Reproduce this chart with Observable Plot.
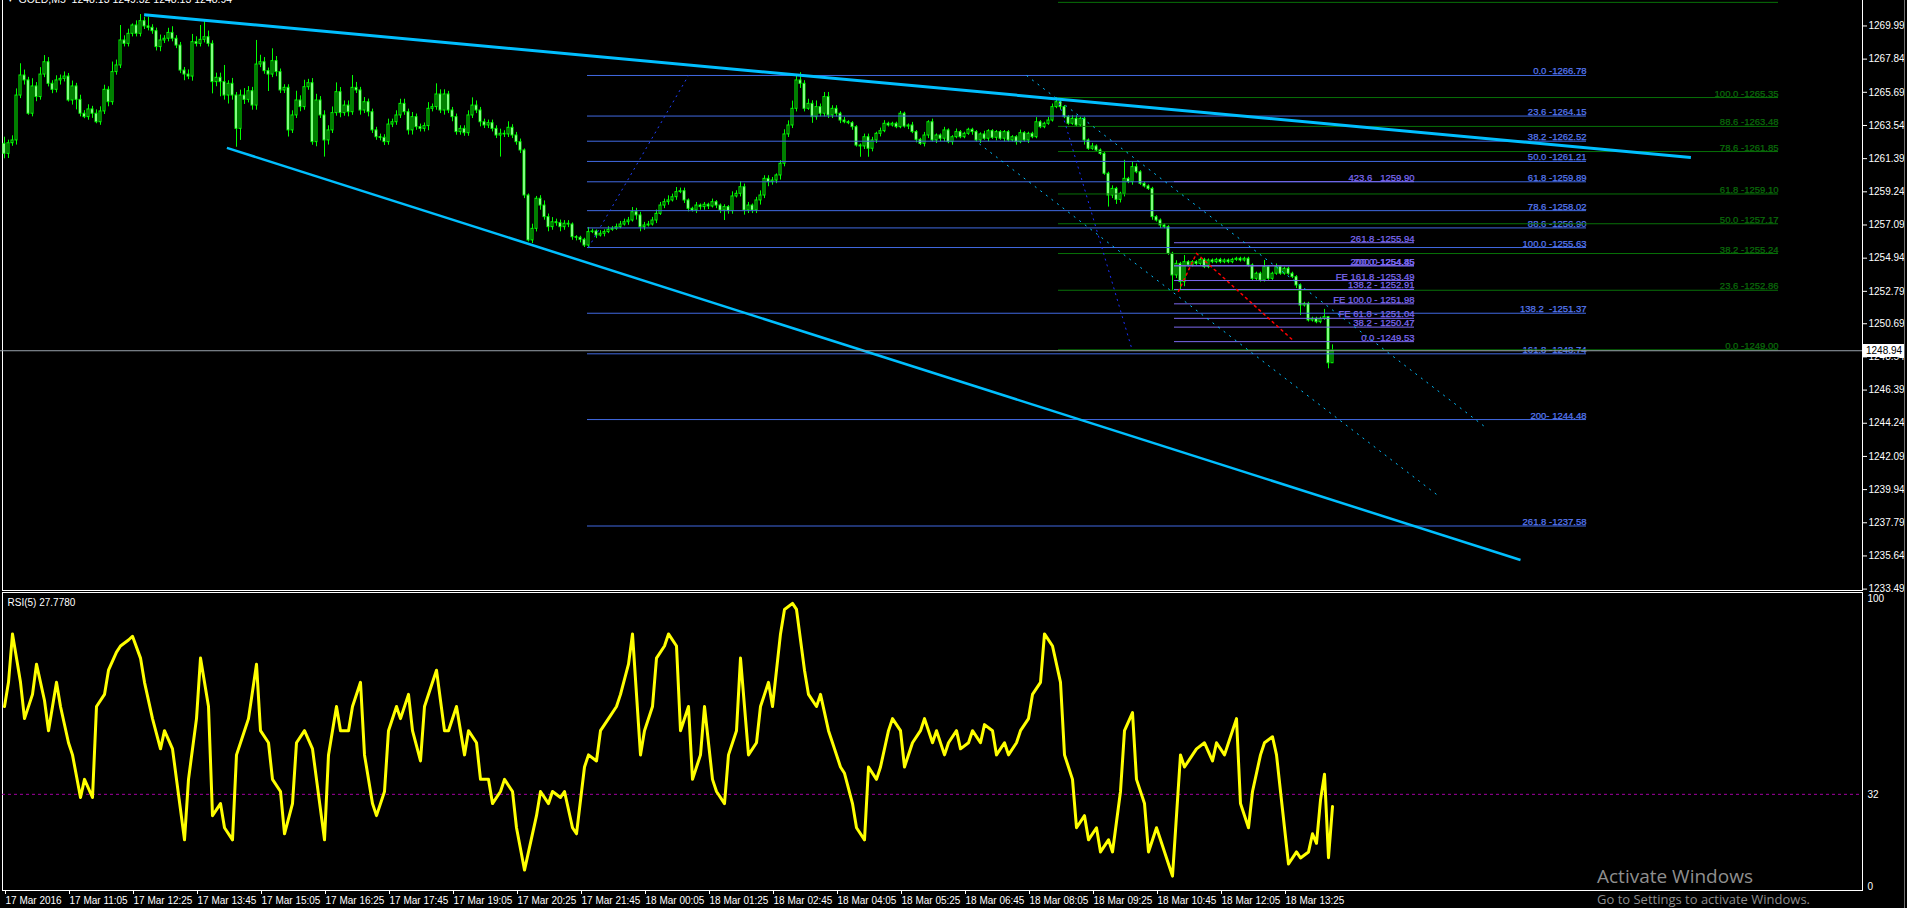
<!DOCTYPE html>
<html><head><meta charset="utf-8">
<script src="https://cdn.jsdelivr.net/npm/d3@7"></script>
<script src="https://cdn.jsdelivr.net/npm/@observablehq/plot@0.6"></script>
<style>
html,body{margin:0;padding:0;background:#000;overflow:hidden;}
#wrap{position:relative;width:1907px;height:908px;background:#000;}
#wrap svg{display:block;}
#wrap svg.mainchart{position:relative;z-index:2;overflow:visible;}
#overlay{position:absolute;left:0;top:0;pointer-events:none;z-index:3;}
</style></head><body><div id="wrap"></div>
<script>
// ---------- DATA ----------
const headerText = "GOLD,M5  1248.13 1249.32 1248.13 1248.94";
const rsiTitle = "RSI(5) 27.7780";
const firstOpen = 1262.35;
const closes = [
1261.70,1262.39,1262.57,1265.48,1266.78,1266.46,1264.30,1266.07,1265.38,1266.84,
1267.64,1266.24,1265.85,1266.46,1266.56,1266.71,1265.16,1266.07,1265.20,1264.30,
1264.08,1264.58,1264.30,1263.75,1264.45,1265.85,1265.05,1267.00,1267.43,1269.05,
1268.83,1269.48,1270.02,1269.48,1270.30,1269.96,1269.87,1269.65,1268.62,1269.05,
1269.16,1269.54,1269.16,1268.72,1267.10,1266.84,1266.71,1268.94,1268.83,1269.09,
1269.26,1268.83,1266.35,1266.63,1266.35,1265.48,1266.24,1265.48,1263.32,1265.48,
1265.20,1265.76,1264.83,1267.49,1267.64,1267.06,1266.84,1267.71,1267.00,1265.81,
1265.98,1263.22,1264.19,1265.16,1264.73,1266.02,1266.28,1262.46,1265.16,1264.19,
1262.57,1263.22,1264.34,1265.70,1264.34,1264.83,1264.40,1265.98,1265.81,1264.51,
1265.05,1264.40,1263.22,1262.78,1262.74,1262.46,1263.60,1263.75,1264.19,1264.94,
1264.40,1263.22,1264.08,1263.43,1263.32,1263.50,1264.62,1264.73,1265.55,1264.51,
1265.55,1264.51,1264.08,1263.11,1263.32,1263.04,1264.19,1264.83,1264.51,1263.75,
1263.54,1263.69,1263.32,1262.89,1263.00,1262.96,1263.39,1262.89,1262.46,1261.92,
1259.00,1256.09,1256.84,1258.79,1258.35,1257.60,1256.95,1257.27,1257.21,1256.95,
1257.17,1257.12,1256.30,1256.26,1256.13,1255.76,1256.63,1256.67,1256.41,1256.52,
1256.63,1256.78,1256.84,1256.95,1257.12,1257.27,1257.38,1257.92,1257.71,1256.95,
1257.06,1257.12,1257.38,1257.81,1258.35,1258.57,1258.68,1258.89,1259.22,1259.28,
1258.68,1258.14,1258.03,1258.35,1258.25,1258.40,1258.29,1258.57,1258.35,1258.03,
1258.25,1257.99,1258.94,1259.11,1259.54,1258.03,1258.35,1258.03,1258.68,1259.00,
1260.08,1259.87,1259.97,1260.30,1261.06,1262.96,1263.54,1264.62,1266.46,1266.24,
1264.62,1264.94,1264.08,1264.73,1264.30,1265.38,1264.19,1264.62,1264.30,1263.86,
1263.75,1263.69,1263.43,1262.24,1262.18,1262.78,1262.03,1262.57,1263.00,1263.17,
1263.65,1263.54,1263.65,1263.43,1264.30,1263.47,1263.54,1263.11,1262.61,1262.35,
1262.89,1263.75,1262.57,1262.89,1262.68,1263.22,1262.46,1262.78,1263.11,1262.78,
1263.00,1263.26,1263.11,1262.57,1262.96,1262.68,1263.17,1262.74,1263.11,1262.68,
1263.11,1262.57,1262.78,1262.46,1263.04,1262.57,1263.00,1262.78,1263.75,1263.43,
1263.65,1263.86,1264.73,1265.05,1264.73,1264.08,1263.65,1263.97,1263.54,1263.97,
1262.57,1262.03,1262.18,1261.92,1261.70,1260.41,1259.00,1259.43,1258.72,1259.11,
1260.08,1259.87,1260.84,1260.51,1259.76,1259.59,1259.43,1257.60,1257.38,1257.06,
1256.95,1255.22,1253.82,1254.57,1253.39,1254.68,1254.47,1254.68,1254.57,1254.83,
1254.36,1254.79,1254.68,1254.83,1254.68,1254.79,1254.68,1254.83,1254.90,1254.79,
1254.90,1254.47,1253.60,1253.93,1253.49,1254.36,1253.60,1253.93,1254.36,1253.93,
1254.25,1253.93,1253.71,1253.17,1251.87,1251.98,1250.90,1251.01,1250.79,1251.01,
1251.12,1248.13,1248.94];
const wickUp = [
0.43,0.2,0.3,0.43,0.76,0.35,0.2,0.5,0.25,0.45,0.43,0.3,0.2,0.3,0.25,0.3,0.2,0.35,0.2,0.3,
0.2,0.3,0.2,0.25,0.3,0.3,0.2,0.65,0.35,0.97,0.3,0.3,0.1,0.3,0.43,0.25,0.6,0.2,0.2,0.35,
0.2,0.3,0.4,0.2,0.2,0.2,0.3,0.5,0.35,0.93,1.08,0.4,0.2,0.3,0.3,1.08,0.2,0.35,0.2,0.35,
0.45,0.3,0.25,1.56,0.45,0.3,0.2,0.8,0.3,0.2,0.2,0.2,0.3,0.6,0.3,0.45,0.25,0.3,0.4,0.25,
0.3,0.3,0.4,0.6,0.3,0.3,0.3,0.8,0.35,0.2,0.3,0.2,0.2,0.2,0.2,0.2,0.35,0.2,0.3,0.3,
0.3,0.2,0.3,0.2,0.2,0.2,0.4,0.2,0.69,0.3,0.3,0.2,0.2,0.2,0.2,0.2,0.3,0.5,0.3,0.2,
0.2,0.2,0.2,0.2,0.3,0.2,0.39,0.2,0.2,0.2,0.1,0.1,0.3,0.15,0.2,0.3,0.2,0.3,0.2,0.2,
0.2,0.2,0.1,0.1,0.1,0.1,0.3,0.15,0.1,0.2,0.15,0.2,0.15,0.2,0.2,0.2,0.2,0.3,0.25,0.2,
0.2,0.2,0.2,0.25,0.2,0.2,0.3,0.2,0.3,0.2,0.2,0.1,0.1,0.2,0.1,0.15,0.1,0.2,0.1,0.1,
0.15,0.1,0.3,0.2,0.35,0.2,0.2,0.1,0.2,0.3,0.2,0.2,0.2,0.1,0.2,0.3,0.3,0.5,0.32,0.5,
0.2,0.3,0.2,0.4,0.2,0.3,0.3,0.2,0.2,0.1,0.2,0.1,0.1,0.1,0.1,0.2,0.2,0.2,0.1,0.2,
0.2,0.1,0.1,0.1,0.15,0.1,0.1,0.2,0.1,0.1,0.2,0.1,0.2,0.1,0.1,0.2,0.1,0.1,0.2,0.1,
0.1,0.1,0.1,0.1,0.1,0.2,0.1,0.1,0.1,0.1,0.1,0.1,0.1,0.1,0.2,0.1,0.1,0.1,0.3,0.1,
0.1,0.2,0.2,0.3,0.1,0.1,0.1,0.2,0.2,0.1,0.1,0.1,0.2,0.1,0.1,0.1,0.1,0.2,0.1,0.1,
1.2,0.1,0.3,0.2,0.1,0.1,0.1,0.1,0.1,0.1,0.1,0.1,0.1,0.2,0.1,0.43,0.1,0.1,0.1,0.1,
0.1,0.1,0.1,0.1,0.1,0.1,0.1,0.1,0.1,0.1,0.1,0.1,0.1,0.1,0.1,0.43,0.1,0.1,0.2,0.1,
0.1,0.1,0.1,0.1,0.1,0.1,0.1,0.1,0.1,0.1,0.5,0,0.38];
const wickDn = [
0.32,0.3,0.2,0.3,0.2,0.3,0.1,0.2,0.3,0.2,0.2,0.2,0.25,0.2,0.3,0.2,0.1,0.3,0.65,0.2,
0.1,0.2,0.3,0.1,0.2,0.2,0.3,0.2,0.2,0.2,0.2,0.2,0.2,0.2,0.2,0.2,0.2,0.2,0.25,0.3,
0.2,0.2,0.2,0.2,0.2,0.4,0.2,0.3,0.2,0.2,0.2,0.2,0.76,0.3,0.95,0.3,0.55,0.3,1.19,0.75,
0.3,0.2,0.3,0.3,0.2,0.2,1.1,0.2,0.3,0.2,0.2,0.43,0.2,0.2,0.3,0.2,0.2,0.2,0.3,0.2,
1.08,0.3,0.2,0.2,0.3,0.2,0.3,0.2,0.2,0.3,0.2,0.3,0.2,0.2,0.2,0.22,0.2,0.2,0.2,0.2,
0.2,0.3,0.3,0.2,0.2,0.2,0.3,0.2,0.2,0.2,0.3,0.2,0.3,0.2,0.2,0.2,0.2,0.2,0.2,0.3,
0.2,0.2,0.2,0.2,1.4,0.2,0.2,0.2,0.2,0.2,0.2,0.1,0.2,0.2,0.3,0.2,0.3,0.2,0.2,0.3,
0.2,0.2,0.2,0.2,0.2,0.13,0.2,0.1,0.2,0.1,0.2,0.1,0.1,0.1,0.1,0.1,0.2,0.1,0.3,0.3,
0.2,0.1,0.1,0.2,0.1,0.2,0.2,0.1,0.2,0.1,0.2,0.2,0.1,0.2,0.2,0.2,0.2,0.1,0.2,0.2,
0.65,0.2,0.2,0.1,0.2,0.3,0.2,0.2,0.2,0.3,0.2,0.3,0.2,0.2,0.3,0.2,0.2,0.2,0.2,0.3,
0.2,0.1,0.4,0.2,0.2,0.2,0.2,0.2,0.2,0.2,0.1,0.1,0.2,0.1,0.7,0.2,0.55,0.2,0.2,0.2,
0.1,0.1,0.1,0.1,0.1,0.1,0.2,0.1,0.2,0.1,0.2,0.2,0.1,0.2,0.2,0.2,0.1,0.2,0.1,0.1,
0.1,0.1,0.2,0.1,0.2,0.1,0.2,0.1,0.2,0.1,0.2,0.1,0.1,0.2,0.1,0.1,0.2,0.1,0.1,0.1,
0.1,0.1,0.1,0.1,0.2,0.1,0.1,0.1,0.1,0.1,0.3,0.1,0.1,0.1,0.1,0.1,0.75,0.2,0.3,0.2,
0.2,0.1,0.2,0.1,0.1,0.1,0.1,0.2,0.1,0.2,0.1,0.1,0.97,0.2,0.54,0.3,0.1,0.1,0.1,0.1,
0.1,0.1,0.1,0.1,0.1,0.1,0.1,0.1,0.1,0.1,0.1,0.1,0.1,0.1,0.1,0.1,0.1,0.1,0.1,0.1,
0.1,0.1,0.1,0.2,0.65,0.1,0.1,0.1,0.1,0.1,0.1,0.36,0];

const rsiBar = [0,1,2,4,5,7,8,10,11,13,14,16,17,19,20,22,23,25,26,28,29,31,32,34,35,37,39,40,42,43,45,46,48,49,51,52,54,55,57,58,60,61,63,64,66,67,69,70,72,73,75,77,78,80,81,83,84,86,87,89,90,92,93,95,96,98,99,101,102,104,105,107,108,110,111,113,115,116,118,119,121,122,124,125,127,128,130,131,133,134,136,137,139,140,142,143,145,146,148,149,151,153,154,156,157,159,160,162,163,165,166,168,169,171,172,174,175,177,178,180,181,183,184,186,188,189,191,192,194,195,197,198,200,201,203,204,206,207,209,210,212,213,215,216,218,219,221,222,224,225,227,229,230,232,233,235,236,238,239,241,242,244,245,247,248,250,251,253,254,256,257,259,260,262,264,265,267,268,270,271,273,274,276,277,279,280,282,283,285,286,288,289,291,292,294,295,297,298,300,302,303,305,306,308,309,311,312,314,315,317,318,320,321,323,324,326,327,328,329,330,331,332];
const rsiVal = [62.5,70.9,87.7,70.9,58.3,66.7,77.2,64.6,54.1,70.9,62.5,49.9,45.7,30.9,37.2,30.9,62.5,66.7,75.1,81.4,83.5,85.6,86.9,79.3,70.9,58.3,47.8,54.1,47.8,37.2,16.2,37.2,58.3,79.3,62.5,24.6,28.8,20.4,16.2,45.7,54.1,58.3,77.2,54.1,49.9,37.2,33.0,18.3,28.8,49.9,54.1,47.8,37.2,16.2,45.7,62.5,54.1,54.1,62.5,70.9,45.7,28.8,24.6,33.0,54.1,62.5,58.3,66.7,54.1,43.6,62.5,70.9,75.1,54.1,54.1,62.5,45.7,54.1,49.9,37.2,37.2,28.8,33.0,37.2,33.0,20.4,5.7,12.0,24.6,33.0,28.8,33.0,30.9,33.0,20.4,18.3,41.5,45.7,43.6,54.1,58.3,62.5,66.7,77.2,87.7,45.7,54.1,62.5,79.3,83.5,87.7,83.5,54.1,62.5,37.2,45.7,62.5,37.2,33.0,28.8,45.7,54.1,79.3,45.7,49.9,62.5,70.9,62.5,87.7,96.2,98.3,96.2,75.1,66.7,62.5,66.7,54.1,49.9,41.5,39.3,28.8,20.4,16.2,41.5,37.2,41.5,54.1,58.3,54.1,41.5,49.9,54.1,58.3,49.9,54.1,45.7,49.9,54.1,47.8,49.9,54.1,49.9,56.2,54.1,45.7,49.9,45.7,49.9,54.1,58.3,66.7,70.9,87.7,83.5,70.9,45.7,37.2,20.4,24.6,16.2,20.4,12.0,16.2,12.0,33.0,54.1,60.4,37.2,28.8,12.0,20.4,16.2,7.8,3.6,45.7,41.5,45.7,47.8,49.9,43.6,49.9,45.7,49.9,58.3,28.8,20.4,33.0,45.7,49.9,52.0,45.7,20.4,7.8,12.0,9.9,12.0,18.3,15,30,39,10,27.778];
const rsiLevel = 32;

const timeLabels = ["17 Mar 2016","17 Mar 11:05","17 Mar 12:25","17 Mar 13:45","17 Mar 15:05","17 Mar 16:25","17 Mar 17:45","17 Mar 19:05","17 Mar 20:25","17 Mar 21:45","18 Mar 00:05","18 Mar 01:25","18 Mar 02:45","18 Mar 04:05","18 Mar 05:25","18 Mar 06:45","18 Mar 08:05","18 Mar 09:25","18 Mar 10:45","18 Mar 12:05","18 Mar 13:25"];
const timeTickBars = [0,16,32,48,64,80,96,112,128,144,160,176,192,208,224,240,256,272,288,304,320];
const priceTicks = [1269.99,1267.84,1265.69,1263.54,1261.39,1259.24,1257.09,1254.94,1252.79,1250.69,1248.54,1246.39,1244.24,1242.09,1239.94,1237.79,1235.64,1233.49];
const rsiTicks = [100, 32, 0];
const barDomain = [-0.5, 464.5];
const priceDomain = [1233.40, 1271.64];

// Fibonacci retracement (blue)
const blueFibBars = [145.75, 395.5];
const blueFibPrices = [1266.78,1264.15,1262.52,1261.21,1259.89,1258.02,1256.90,1255.63,1251.37,1248.74,1244.48,1237.58];
const blueFibLabels = ["0.0 -1266.78","23.6 -1264.15","38.2 -1262.52","50.0 -1261.21","61.8 -1259.89","78.6 -1258.02","88.6 -1256.90","100.0 -1255.63","138.2  -1251.37","161.8 -1248.74","200- 1244.48","261.8 -1237.58"];
const blueFibAnchorBars = [146, 171];
const blueFibAnchorPrices = [1255.63, 1266.78];
// Fibonacci retracement (green)
const greenFibBars = [263.5, 443.5];
const greenFibPrices = [1271.52,1265.35,1263.48,1261.85,1259.10,1257.17,1255.24,1252.86,1249.00];
const greenFibLabels = ["","100.0 -1265.35","88.6 -1263.48","78.6 -1261.85","61.8 -1259.10","50.0 -1257.17","38.2 -1255.24","23.6 -1252.86","0.0 -1249.00"];
const greenFibAnchorBars = [263.25, 281.9];
const greenFibAnchorPrices = [1265.35, 1249.00];
// Fibonacci expansions (slate blue)
const feBars = [292.5, 352.5];
const fePrices = [1255.94,1254.45,1254.44,1253.49,1252.91,1251.98,1251.04,1250.47,1249.53,1259.90];
const feLabels = ["261.8 -1255.94","200.0 1254.45","200.0 -1254.85","FE 161.8 -1253.49","138.2 - 1252.91","FE 100.0 - 1251.98","FE 61.8 - 1251.04","38.2 - 1250.47","0.0 -1249.53","423.6   1259.90"];
const feAnchorBars = [293.5, 298, 322.5];
const feAnchorPrices = [1252.79, 1255.25, 1249.53];
// Trend lines (cyan)
const trendBars1 = [34.9, 421.6], trendPrices1 = [1270.72, 1261.47];
const trendBars2 = [55.6, 379.0], trendPrices2 = [1262.09, 1235.38];
// Parallel dotted channel (cyan)
const chanBars1 = [255.5, 370.0], chanPrices1 = [1266.78, 1244.03];
const chanBars2 = [243.7, 358.7], chanPrices2 = [1262.35, 1239.49];

// ---------- BUILD ----------
const bars = closes.map((c, i) => {
  const o = i === 0 ? firstOpen : closes[i - 1];
  return {i, o, c, h: Math.max(o, c) + wickUp[i], l: Math.min(o, c) - wickDn[i]};
});
const lastClose = closes[closes.length - 1];
const rsi = rsiBar.map((b, k) => ({b, v: rsiVal[k]}));
const seg = (bs, ps) => [{x1: bs[0], y1: ps[0], x2: bs[1], y2: ps[1]}];
const levels = (ps, ls) => ps.map((p, k) => ({p, t: ls[k]}));

const FONT = "'Liberation Sans', Arial, sans-serif";
const CYAN = "#00bfff", BLUE = "#4169e1", GREEN = "#087208", SLATE = "#7b68ee", LIME = "#00ff00";
const labelOpts = (color) => ({text: "t", textAnchor: "end", lineAnchor: "bottom", dy: -1, fill: color, stroke: color, strokeWidth: 0.25, fontSize: 9.5});

const mainPlot = Plot.plot({
  width: 1907, height: 591,
  marginLeft: 2, marginRight: 45, marginTop: 0, marginBottom: 1,
  className: "mainchart",
  style: {background: "#000", color: "#fff", fontFamily: FONT, fontSize: "10px"},
  x: {domain: barDomain, axis: null, label: null},
  y: {domain: priceDomain, label: null},
  marks: [
    Plot.frame({stroke: "#fff", insetTop: -4}),
    // candles
    Plot.ruleX(bars, {x: "i", y1: "l", y2: "h", stroke: LIME, strokeWidth: 1}),
    Plot.rect(bars, {x1: d => d.i - 0.25, x2: d => d.i + 0.25, y1: "o", y2: "c",
      fill: d => d.c >= d.o ? "#000" : "#fff", stroke: LIME, strokeWidth: 1}),
    // fib retracement blue
    Plot.ruleY(levels(blueFibPrices, blueFibLabels), {y: "p", x1: blueFibBars[0], x2: blueFibBars[1], stroke: BLUE}),
    Plot.text(levels(blueFibPrices, blueFibLabels), {y: "p", x: blueFibBars[1], ...labelOpts("#5577ee")}),
    Plot.link(seg(blueFibAnchorBars, blueFibAnchorPrices), {x1: "x1", y1: "y1", x2: "x2", y2: "y2", stroke: "#2040ff", strokeDasharray: "2,4"}),
    // fib green
    Plot.ruleY(levels(greenFibPrices, greenFibLabels), {y: "p", x1: greenFibBars[0], x2: greenFibBars[1], stroke: GREEN}),
    Plot.text(levels(greenFibPrices, greenFibLabels), {y: "p", x: greenFibBars[1], ...labelOpts("#0a6a0a")}),
    Plot.link(seg(greenFibAnchorBars, greenFibAnchorPrices), {x1: "x1", y1: "y1", x2: "x2", y2: "y2", stroke: "#1a30ff", strokeDasharray: "2,4"}),
    // FE purple
    Plot.ruleY(levels(fePrices, feLabels), {y: "p", x1: feBars[0], x2: feBars[1], stroke: SLATE}),
    Plot.text(levels(fePrices, feLabels), {y: "p", x: feBars[1], ...labelOpts(SLATE)}),
    Plot.line(feAnchorBars.map((b, k) => ({b, p: feAnchorPrices[k]})), {x: "b", y: "p", stroke: "#ff0000", strokeDasharray: "2,4"}),
    // trend lines
    Plot.link(seg(trendBars1, trendPrices1), {x1: "x1", y1: "y1", x2: "x2", y2: "y2", stroke: CYAN, strokeWidth: 3}),
    Plot.link(seg(trendBars2, trendPrices2), {x1: "x1", y1: "y1", x2: "x2", y2: "y2", stroke: CYAN, strokeWidth: 2.5}),
    Plot.link(seg(chanBars1, chanPrices1), {x1: "x1", y1: "y1", x2: "x2", y2: "y2", stroke: CYAN, strokeDasharray: "2,5"}),
    Plot.link(seg(chanBars2, chanPrices2), {x1: "x1", y1: "y1", x2: "x2", y2: "y2", stroke: CYAN, strokeDasharray: "2,5"}),
    // bid line
    Plot.ruleY([lastClose], {stroke: "#9aa2ac", strokeWidth: 1, insetLeft: -2}),
    // price axis
    Plot.axisY(priceTicks, {anchor: "right", tickSize: 4, tickPadding: 2, tickFormat: d => d.toFixed(2), fontSize: 10, label: null}),
    // header
    Plot.text(["\u25BE"], {frameAnchor: "top-left", dx: 5, dy: -1, lineAnchor: "middle", fill: "#fff", fontSize: 9}),
    Plot.text([headerText], {frameAnchor: "top-left", dx: 16, dy: -1, lineAnchor: "middle", fill: "#fff", fontSize: 10.5, textAnchor: "start"})
  ]
});

const rsiPlot = Plot.plot({
  width: 1907, height: 317,
  marginLeft: 2, marginRight: 45, marginTop: 1, marginBottom: 18,
  style: {background: "#000", color: "#fff", fontFamily: FONT, fontSize: "10px"},
  x: {domain: barDomain, label: null},
  y: {domain: [0, 100], insetTop: 6, insetBottom: 4, label: null},
  marks: [
    Plot.frame({stroke: "#fff"}),
    Plot.ruleY([rsiLevel], {stroke: "#a000a0", strokeDasharray: "3,3"}),
    Plot.line(rsi, {x: "b", y: "v", stroke: "#ffff00", strokeWidth: 3, strokeLinejoin: "round"}),
    Plot.axisY(rsiTicks, {anchor: "right", tickSize: 0, tickPadding: 5, fontSize: 10, label: null}),
    Plot.axisX(timeTickBars, {anchor: "bottom", tickSize: 4, tickPadding: 2, textAnchor: "start", dx: 1,
      tickFormat: d => timeLabels[timeTickBars.indexOf(d)], fontSize: 10, label: null}),
    Plot.text([rsiTitle], {frameAnchor: "top-left", dx: 5, dy: 10, lineAnchor: "middle", fill: "#fff", fontSize: 10, textAnchor: "start"})
  ]
});

const wrap = document.getElementById("wrap");
wrap.appendChild(mainPlot);
wrap.appendChild(rsiPlot);

// overlay: current price marker, window border, watermark
const yy = Math.round(mainPlot.scale("y").apply(lastClose));
const ov = d3.select(wrap).append("svg").attr("id", "overlay").attr("width", 1907).attr("height", 908);
ov.append("rect").attr("x", 1863).attr("y", yy - 6).attr("width", 42).attr("height", 13).attr("fill", "#ffffff");
ov.append("text").attr("x", 1866).attr("y", yy + 4).attr("fill", "#000000")
  .attr("font-family", FONT).attr("font-size", 10).text(lastClose.toFixed(2));
ov.append("line").attr("x1", 1904.5).attr("x2", 1904.5).attr("y1", 0).attr("y2", 908).attr("stroke", "#707070");
ov.append("text").attr("x", 1597).attr("y", 883).attr("fill", "#8f8f8f").attr("font-family", "'Open Sans', 'Noto Sans', sans-serif").attr("font-size", 19).text("Activate Windows");
ov.append("text").attr("x", 1597).attr("y", 904).attr("fill", "#8f8f8f").attr("font-family", "'Open Sans', 'Noto Sans', sans-serif").attr("font-size", 13).text("Go to Settings to activate Windows.");
</script>
</body></html>
